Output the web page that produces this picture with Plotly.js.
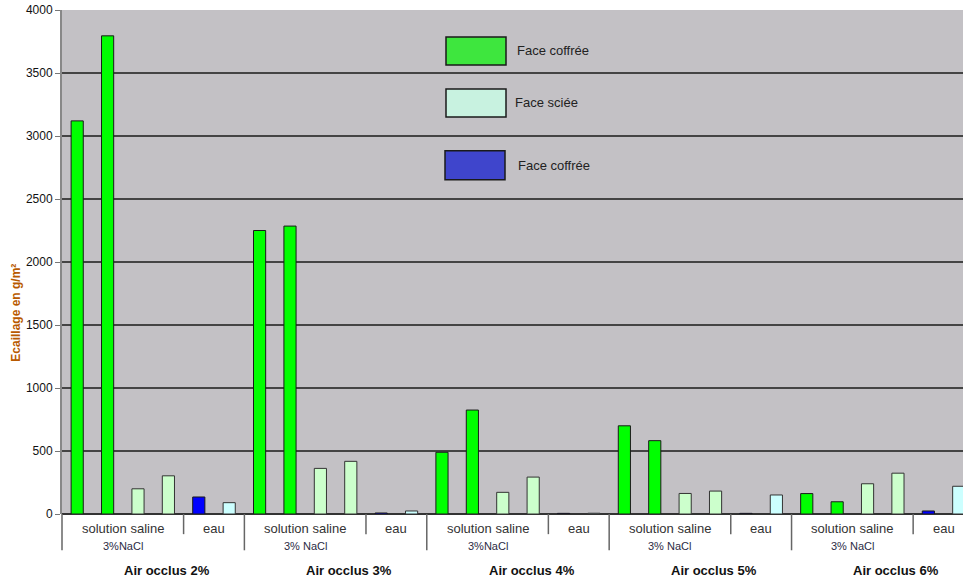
<!DOCTYPE html>
<html>
<head>
<meta charset="utf-8">
<script src="https://cdn.plot.ly/plotly-3.0.1.min.js"></script>
<style>
html,body{margin:0;padding:0;background:#fff;}
#chart{width:963px;height:582px;}
</style>
</head>
<body>
<div id="chart"></div>
<script>
// ---- data ----
var groups = ['Air occlus 2%', 'Air occlus 3%', 'Air occlus 4%', 'Air occlus 5%', 'Air occlus 6%'];
var salineLabels = ['3%NaCl', '3% NaCl', '3%NaCl', '3% NaCl', '3% NaCl'];
var subLabels = ['solution saline', 'eau'];
// solution saline 3% NaCl : two "Face coffrée" bars and two "Face sciée" bars
var salineCoffreeA = [3120, 2250, 490, 700, 162];
var salineCoffreeB = [3795, 2285, 825, 582, 97];
var salineScieeA   = [200, 362, 172, 163, 240];
var salineScieeB   = [303, 418, 293, 182, 324];
// eau : one "Face coffrée" bar and one "Face sciée" bar
var eauCoffree = [135, 8, 5, 5, 24];
var eauSciee   = [90, 24, 6, 151, 220];
var yTicks = [0, 500, 1000, 1500, 2000, 2500, 3000, 3500, 4000];

// ---- build slot positions (6 slots per group: 4 saline + 2 eau) ----
var SLOTS = 6;
var gx = [], gy = [], lx = [], ly = [], bx = [], by = [], cx = [], cy = [];
groups.forEach(function (g, i) {
  var b = i * SLOTS;
  gx.push(b, b + 1); gy.push(salineCoffreeA[i], salineCoffreeB[i]);
  lx.push(b + 2, b + 3); ly.push(salineScieeA[i], salineScieeB[i]);
  bx.push(b + 4); by.push(eauCoffree[i]);
  cx.push(b + 5); cy.push(eauSciee[i]);
});

var outline = {color: '#1a1a1a', width: 1};
var traces = [
  {type: 'bar', name: 'Face coffrée', x: gx, y: gy, width: 0.4,
   marker: {color: '#00FF00', line: outline}, showlegend: false},
  {type: 'bar', name: 'Face sciée', x: lx, y: ly, width: 0.4,
   marker: {color: '#CCFFCC', line: {color: '#333', width: 1}}, showlegend: false},
  {type: 'bar', name: 'Face coffrée (eau)', x: bx, y: by, width: 0.4,
   marker: {color: '#0000FF', line: outline}, showlegend: false},
  {type: 'bar', name: 'Face sciée (eau)', x: cx, y: cy, width: 0.4,
   marker: {color: '#CCFFFF', line: {color: '#333', width: 1}}, showlegend: false}
];

var FONT = 'Liberation Sans, Arial, sans-serif';
var annotations = [];
var shapes = [];
groups.forEach(function (g, i) {
  var b = i * SLOTS;
  annotations.push({xref: 'x', yref: 'paper', x: b + 1.5, y: 0, yshift: -14, yanchor: 'middle',
    text: subLabels[0], showarrow: false, font: {family: FONT, size: 13, color: '#333'}});
  annotations.push({xref: 'x', yref: 'paper', x: b + 1.5, y: 0, yshift: -32, yanchor: 'middle',
    text: salineLabels[i], showarrow: false, font: {family: FONT, size: 11, color: '#2b2b44'}});
  annotations.push({xref: 'x', yref: 'paper', x: b + 4.5, y: 0, yshift: -14, yanchor: 'middle',
    text: subLabels[1], showarrow: false, font: {family: FONT, size: 13, color: '#333'}});
  annotations.push({xref: 'x', yref: 'paper', x: b + 2.95, y: 0, yshift: -56, yanchor: 'middle',
    text: '<b>' + g + '</b>', showarrow: false, font: {family: FONT, size: 13, color: '#111'}});
  // dividers
  shapes.push({type: 'line', xref: 'x', yref: 'paper', x0: b + 3.5, x1: b + 3.5, y0: 0, y1: -0.04,
    line: {color: '#666', width: 1.5}});
  if (i > 0) {
    shapes.push({type: 'line', xref: 'x', yref: 'paper', x0: b - 0.5, x1: b - 0.5, y0: 0, y1: -0.072,
      line: {color: '#666', width: 1.5}});
  }
});
shapes.push({type: 'line', xref: 'paper', yref: 'paper', x0: 0, x1: 0, y0: 0, y1: -0.072,
  line: {color: '#666', width: 1.5}});

// legend drawn as swatches + labels
var legendItems = [
  {label: 'Face coffrée', color: '#3EE63E', y0: 37, y1: 65, x0: 446, tx: 515},
  {label: 'Face sciée', color: '#C8F2E0', y0: 89, y1: 117, x0: 446, tx: 513},
  {label: 'Face coffrée', color: '#3F45CC', y0: 151, y1: 180, x0: 445, tx: 516}
];
var L = 62, T = 10, W = 901, H = 504.5;
legendItems.forEach(function (it) {
  shapes.push({type: 'rect', xref: 'paper', yref: 'paper',
    x0: (it.x0 - L) / W, x1: (it.x0 + 60 - L) / W,
    y0: 1 - (it.y0 - T) / H, y1: 1 - (it.y1 - T) / H,
    fillcolor: it.color, line: {color: '#1a1a1a', width: 1.5}});
  annotations.push({xref: 'paper', yref: 'paper', x: (it.tx - L) / W, xanchor: 'left',
    y: 1 - ((it.y0 + it.y1) / 2 - T) / H, yanchor: 'middle', text: it.label, showarrow: false,
    font: {family: FONT, size: 13, color: '#222'}});
});

// y-axis title
annotations.push({xref: 'paper', yref: 'paper', x: 0, xshift: -46, y: (514.5 - 313) / H, yanchor: 'middle',
  xanchor: 'center', text: '<b>Ecaillage en g/m²</b>', textangle: -90, showarrow: false,
  font: {family: FONT, size: 12, color: '#B85A00'}});

var layout = {
  width: 963, height: 582,
  margin: {l: 62, r: 0, t: 10, b: 67.5, pad: 0},
  paper_bgcolor: '#ffffff',
  plot_bgcolor: '#C3C1C5',
  barmode: 'overlay',
  font: {family: FONT},
  xaxis: {
    range: [-0.5, 29.14], showticklabels: false, showgrid: false, zeroline: false,
    ticks: '', showline: false, fixedrange: true
  },
  yaxis: {
    range: [0, 4000], tickvals: yTicks, ticktext: yTicks.map(String),
    showgrid: true, gridcolor: '#444', gridwidth: 1.6,
    zeroline: true, zerolinecolor: '#333', zerolinewidth: 1.5,
    showline: true, linecolor: '#888', linewidth: 2,
    ticks: 'outside', ticklen: 5, tickcolor: '#777',
    tickfont: {family: FONT, size: 12, color: '#111'}
  },
  annotations: annotations,
  shapes: shapes,
  showlegend: false
};

Plotly.newPlot('chart', traces, layout, {staticPlot: true});
</script>
</body>
</html>
